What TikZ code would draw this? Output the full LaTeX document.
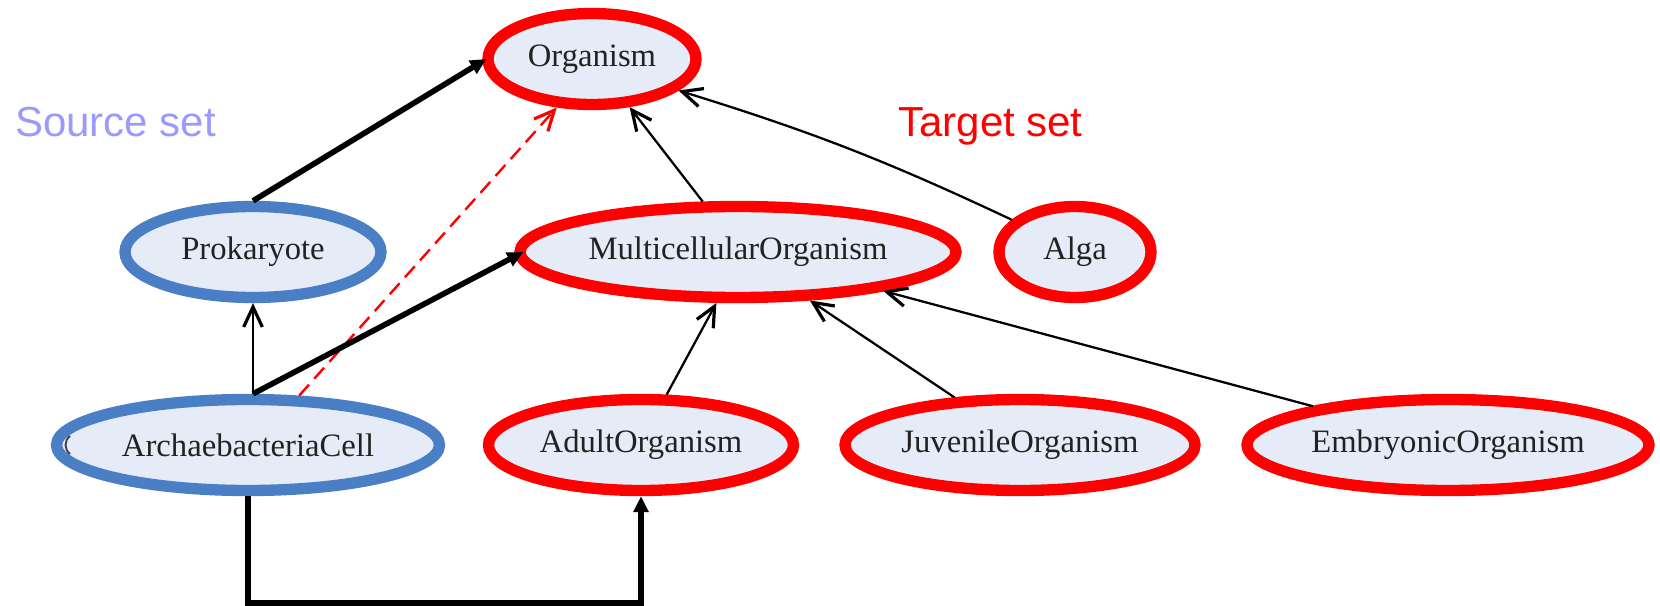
\documentclass[tikz,border=0pt]{standalone}
\usepackage{fontspec}
\setmainfont{Liberation Serif}
\newfontfamily\labelfont{Liberation Sans}
\usetikzlibrary{shapes.geometric,arrows.meta,calc}
\definecolor{nodefill}{HTML}{E5ECF7}
\definecolor{srcblue}{HTML}{4A7FC6}
\definecolor{tgtred}{HTML}{FF0000}
\definecolor{srclabel}{HTML}{9999FF}
\definecolor{nodetext}{HTML}{222222}
\begin{document}
\begin{tikzpicture}[x=0.75pt,y=-0.75pt,
  cls/.style={ellipse, fill=nodefill, line width=8.5pt, inner sep=0pt,
    minimum height=68.25pt, font=\fontsize{24.5}{28}\selectfont, text=nodetext},
  srcnode/.style={cls, draw=srcblue},
  tgtnode/.style={cls, draw=tgtred},
  barb/.style={-{Straight Barb[length=15pt,width=14pt,line width=2.4pt]}},
  thinedge/.style={line width=1.7pt, barb},
  thickedge/.style={line width=4.2pt, -{Triangle[length=12pt,width=11pt]}},
  mapedge/.style={line width=1.8pt, tgtred, dash pattern=on 11pt off 6pt, barb},
  setlabel/.style={anchor=base west, inner sep=0pt, font=\labelfont\fontsize{31.5}{34}\selectfont}
]
\useasboundingbox (0,0) rectangle (1660,606);

\node[tgtnode, minimum width=156pt] (org) at (592,59) {Organism};
\node[srcnode, minimum width=192pt] (prok) at (253,252) {Prokaryote};
\node[tgtnode, minimum width=327pt] (multi) at (738,252) {MulticellularOrganism};
\node[tgtnode, minimum width=114pt] (alga) at (1075,252) {Alga};
\node[srcnode, minimum width=287.25pt] (arch) at (248,445) {ArchaebacteriaCell};
\node[tgtnode, minimum width=228.75pt] (adult) at (641,445) {AdultOrganism};
\node[tgtnode, minimum width=262.5pt] (juv) at (1020,445) {JuvenileOrganism};
\node[tgtnode, minimum width=301.5pt] (emb) at (1448,445) {EmbryonicOrganism};

\node[setlabel, text=srclabel] (srclab) at (15,137) {Source set};
\node[setlabel, text=tgtred] (tgtlab) at (898,137) {Target set};

% small artefact inside ArchaebacteriaCell
\draw[black!75, line width=1.4pt] (70,436) .. controls (64,441) and (64,449) .. (70,454);

% thin subclass edges
\draw[thinedge] (multi.125) -- (org.308);
\draw[thinedge] (alga.153) to[bend right=4] (org.340);
\draw[thinedge] (prok.south |- arch.north) -- (prok.south);
\draw[thinedge] (adult.63) -- (multi.247);
\draw[thinedge] (juv.144) -- (multi.326);
\draw[thinedge] (emb.164) -- (multi.345);

% mapping edge
\draw[mapedge] (arch.44) -- (org.234);

% thick edges
\draw[thickedge] (prok.north) -- ($(org.west)+(4,0)$);
\draw[thickedge] ($(arch.north)+(5,0)$) -- ($(multi.west)+(9,0)$);
\coordinate (bottom) at (0,603);
\draw[thickedge] (arch.south) -- (arch.south |- bottom) -| (adult.south);
\end{tikzpicture}
\end{document}
